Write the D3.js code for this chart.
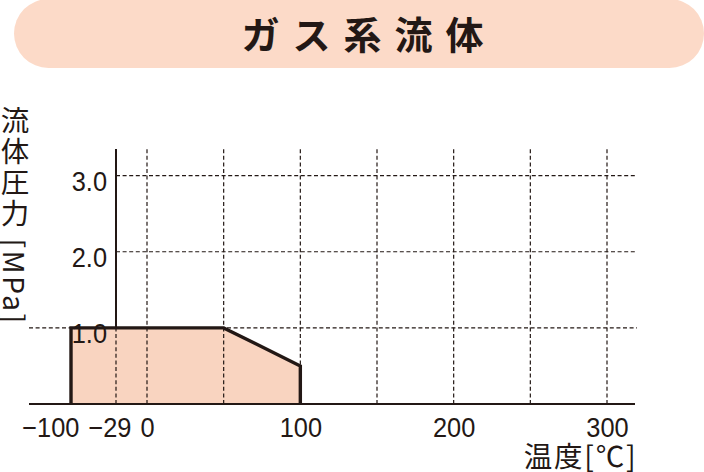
<!DOCTYPE html>
<html>
<head>
<meta charset="utf-8">
<script src="https://cdn.jsdelivr.net/npm/d3@7"></script>
<style>
  html, body { margin: 0; padding: 0; background: #fff; }
  svg { display: block; }
</style>
</head>
<body>
<svg id="chart" width="704" height="472"></svg>
<script>
// ---- data ----
const titleText = "ガス系流体";
const yTitle = "流体圧力 [MPa]";
const xTitle = "温度[℃]";
const xTicks = [-100, -29, 0, 100, 200, 300];
const yTicks = [1, 2, 3];
const xGrid = [-29, 0, 50, 100, 150, 200, 250, 300];
const yGrid = [1, 2, 3];
const tempPoints = [-100, -100, 50, 100, 100];
const pressurePoints = [0, 1, 1, 0.5, 0];

// ---- styles ----
const ink = "#231815";
const peach = "#fcdac8";
const fillPeach = "#f9d4c0";
const tickFont = "'Liberation Sans', Arial, sans-serif";
const cjkFont = "'Noto Sans CJK JP', 'Noto Sans', sans-serif";
const sx = 0.94;

const svg = d3.select("#chart");

// banner
svg.append("rect")
  .attr("x", 14).attr("y", -1).attr("width", 690).attr("height", 69)
  .attr("rx", 34.5).attr("ry", 34.5)
  .attr("fill", peach);
svg.append("text")
  .attr("x", 369).attr("y", 49)
  .attr("text-anchor", "middle")
  .attr("font-family", cjkFont).attr("font-weight", 700)
  .attr("font-size", 38).attr("letter-spacing", 13)
  .attr("fill", ink)
  .text(titleText);

// scales (schematic, compressed below 0 °C)
const x = d3.scaleLinear().domain([-100, -29, 0, 300]).range([71, 116, 147, 607]);
const y = d3.scaleLinear().domain([0, 3.35]).range([404, 149]);
const yTop = y.range()[1];
const x0 = x(-100) - 42, x1 = x(300) + 28;

// y axis line at -29
svg.append("line")
  .attr("x1", x(-29)).attr("x2", x(-29))
  .attr("y1", yTop).attr("y2", y(0))
  .attr("stroke", ink).attr("stroke-width", 2);

// area fill
const pts = tempPoints.map((t, i) => [x(t), y(pressurePoints[i])]);
const line = d3.line();
svg.append("path")
  .attr("d", line(pts) + "Z")
  .attr("fill", fillPeach).attr("stroke", "none");

// grid
const gGrid = svg.append("g")
  .attr("stroke", ink).attr("stroke-width", 1.2)
  .attr("stroke-dasharray", "4,2.6");
gGrid.selectAll("line.v").data(xGrid).join("line")
  .attr("class", "v")
  .attr("x1", d => x(d)).attr("x2", d => x(d))
  .attr("y1", y(0)).attr("y2", yTop);
gGrid.selectAll("line.h").data(yGrid).join("line")
  .attr("class", "h")
  .attr("x1", d => d === d3.max(pressurePoints) ? x0 : x(-29))
  .attr("x2", x1 + 2)
  .attr("y1", d => y(d)).attr("y2", d => y(d));

// x axis baseline
svg.append("line")
  .attr("x1", x0).attr("x2", x1)
  .attr("y1", y(0)).attr("y2", y(0))
  .attr("stroke", ink).attr("stroke-width", 2.2);

// outline
svg.append("path")
  .attr("d", line(pts))
  .attr("fill", "none").attr("stroke", ink)
  .attr("stroke-width", 3.4).attr("stroke-linejoin", "miter");

// x axis labels
const xAxis = svg.append("g")
  .attr("transform", `translate(0,${y(0)})`)
  .call(d3.axisBottom(x).tickValues(xTicks).tickSize(0).tickFormat(d3.format("d")));
xAxis.select(".domain").remove();
xAxis.selectAll("text")
  .attr("y", 33).attr("dy", 0)
  .attr("font-family", tickFont).attr("font-size", 27)
  .attr("fill", ink)
  .attr("transform", `scale(${sx},1)`);
// resolve overlaps from the right
{
  const nodes = xAxis.selectAll(".tick").nodes();
  const info = nodes.map(n => {
    const t = d3.select(n).select("text");
    const w = t.node().getComputedTextLength() * sx;
    const cx = x(+d3.select(n).datum());
    return { t, w, cx, left: cx - w / 2, right: cx + w / 2 };
  });
  const gap = 9;
  for (let i = info.length - 2; i >= 0; i--) {
    const a = info[i], b = info[i + 1];
    if (a.right > b.left - gap) {
      const shift = a.right - (b.left - gap);
      a.left -= shift; a.right -= shift;
      a.t.attr("x", -(a.cx - (a.left + a.w / 2)) / sx);
    }
  }
}

// y axis labels
const yAxis = svg.append("g")
  .attr("transform", `translate(${x(-29)},0)`)
  .call(d3.axisLeft(y).tickValues(yTicks).tickSize(0).tickFormat(d3.format(".1f")));
yAxis.select(".domain").remove();
yAxis.selectAll(".tick text")
  .attr("x", -9 / sx).attr("dy", 0).attr("y", 14.5)
  .attr("text-anchor", "end")
  .attr("font-family", tickFont).attr("font-size", 27)
  .attr("fill", ink)
  .attr("transform", `scale(${sx},1)`);

// axis titles
svg.append("text")
  .attr("x", x1 + 2.5).attr("y", 467)
  .attr("text-anchor", "end")
  .attr("font-family", cjkFont).attr("font-size", 28.5)
  .attr("letter-spacing", 1.8)
  .attr("fill", ink)
  .text(xTitle);

svg.append("text")
  .attr("x", 15).attr("y", 106)
  .attr("style", "writing-mode: vertical-rl;")
  .attr("font-family", cjkFont).attr("font-size", 28.5)
  .attr("letter-spacing", 2.4)
  .attr("fill", ink)
  .text(yTitle);
</script>
</body>
</html>
